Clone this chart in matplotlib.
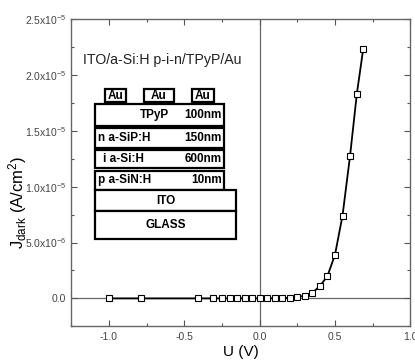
import matplotlib
matplotlib.use('Agg')
import matplotlib.pyplot as plt
from matplotlib.patches import Rectangle
from matplotlib.ticker import MultipleLocator, FuncFormatter

plt.rcParams['font.family'] = ['Liberation Sans', 'DejaVu Sans']
plt.rcParams['mathtext.fontset'] = 'custom'
plt.rcParams['mathtext.rm'] = 'Liberation Sans'
plt.rcParams['mathtext.it'] = 'Liberation Sans'

# dark J-V curve
voltage = [-1.0, -0.79, -0.41, -0.31, -0.25, -0.2, -0.15, -0.1, -0.05, 0.0,
           0.05, 0.1, 0.15, 0.2, 0.25, 0.3, 0.35, 0.4, 0.45, 0.5,
           0.55, 0.6, 0.645, 0.687]
j_dark = [0.0, 0.0, 0.0, 0.0, 0.0, 0.0, 0.0, 0.0, 0.0, 0.0,
          0.0, 1e-8, 2e-8, 5e-8, 1.2e-7, 2.5e-7, 5e-7, 1.1e-6, 2.0e-6, 3.9e-6,
          7.4e-6, 1.275e-5, 1.83e-5, 2.23e-5]

# device stack: (label, thickness) top to bottom
layers = [('TPyP', '100nm'), ('n a-SiP:H', '150nm'), ('i a-Si:H', '600nm'),
          ('p a-SiN:H', '10nm'), ('ITO', ''), ('GLASS', '')]

W, H = 415, 362
fig = plt.figure(figsize=(W / 100, H / 100), dpi=100)
ax_l, ax_r, ax_t, ax_b = 71.3, 410.3, 19.3, 326.3
ax = fig.add_axes([ax_l / W, 1 - ax_b / H, (ax_r - ax_l) / W, (ax_b - ax_t) / H])

ax.axhline(0, color='#666666', lw=0.9, zorder=1)
ax.axvline(0, color='#666666', lw=0.9, zorder=1)
ax.plot(voltage, j_dark, color='black', lw=1.3, marker='s', ms=4.2,
        mfc='white', mec='black', mew=0.8, zorder=3)

ax.set_xlim(-1.25, 1.0)
ax.set_ylim(-2.5e-6, 2.5e-5)
ax.xaxis.set_major_locator(MultipleLocator(0.5))
ax.xaxis.set_minor_locator(MultipleLocator(0.25))
ax.yaxis.set_major_locator(MultipleLocator(5e-6))
ax.yaxis.set_minor_locator(MultipleLocator(2.5e-6))


def yfmt(v, pos):
    if abs(v) < 1e-12:
        return '0.0'
    exp = int(f'{v:.1e}'.split('e')[1])
    mant = v / 10 ** exp
    return f'{mant:.1f}x10$^{{{exp}}}$'


ax.yaxis.set_major_formatter(FuncFormatter(yfmt))
ax.xaxis.set_major_formatter(FuncFormatter(lambda v, p: f'{v:.1f}'))
ax.tick_params(which='both', direction='in', top=True, right=True,
               colors='#555555', labelcolor='#444444', labelsize=7.5)
ax.tick_params(which='major', length=4, width=0.8)
ax.tick_params(which='minor', length=2, width=0.8)
ax.tick_params(axis='x', pad=4)
for s in ax.spines.values():
    s.set_color('#666666')
    s.set_linewidth(1.0)

ax.set_xlabel('U (V)', fontsize=11, labelpad=2)
ax.set_ylabel(r'J$_{\mathrm{dark}}$ (A/cm$^2$)', fontsize=12)
ax.yaxis.set_label_coords(-0.125, 0.405)

ax.text(0.035, 0.855, 'ITO/a-Si:H p-i-n/TPyP/Au', transform=ax.transAxes,
        fontsize=10.2, color='#222222')


# schematic of the layer stack, placed in pixel units of the figure
def px(x, y):
    return (x - ax_l) / (ax_r - ax_l), (ax_b - y) / (ax_b - ax_t)


def box(x0, y0, x1, y1):
    fx0, fy1 = px(x0, y0)
    fx1, fy0 = px(x1, y1)
    ax.add_patch(Rectangle((fx0, fy0), fx1 - fx0, fy1 - fy0, transform=ax.transAxes,
                           fill=True, fc='white', ec='black', lw=1.6, zorder=4))


def label(x, y, s, ha):
    cx, cy = px(x, y)
    ax.text(cx, cy, s, transform=ax.transAxes, ha=ha, va='center',
            fontsize=8.5, fontweight='bold', zorder=5)


for x0, x1 in [(104.5, 126), (144, 174), (192, 214)]:
    box(x0, 89, x1, 102)
    label((x0 + x1) / 2, 96, 'Au', 'center')

rows = [(104.5, 126), (128, 148), (149.5, 168), (170.5, 190), (190, 211), (211, 239)]
for (name, thick), (y0, y1) in zip(layers, rows):
    right = 236 if name in ('ITO', 'GLASS') else 224
    box(95, y0, right, y1)
    ym = (y0 + y1) / 2
    if not thick:
        label((95 + right) / 2, ym, name, 'center')
        continue
    if name == 'TPyP':
        label(169, ym, name, 'right')
    else:
        label(103 if name.startswith('i') else 97.5, ym, name, 'left')
    label(222, ym, thick, 'right')

fig.savefig('out.png', dpi=100)
